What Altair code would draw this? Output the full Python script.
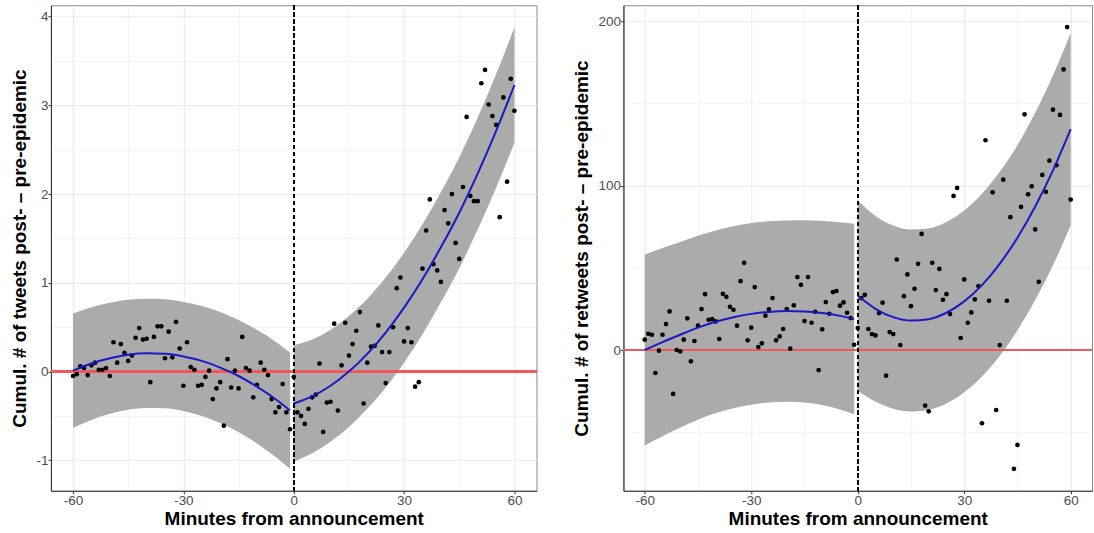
import altair as alt
import pandas as pd

# ---------------- data ----------------
minutes_pre = list(range(-60, 0))
minutes_post = list(range(0, 61))

tweets_pre = [-0.05, -0.03, 0.06, 0.04, -0.04, 0.07, 0.10, 0.02, 0.02, 0.04,
              -0.05, 0.33, 0.10, 0.31, 0.21, 0.12, 0.18, 0.38, 0.49, 0.36,
              0.37, -0.12, 0.39, 0.51, 0.51, 0.15, 0.45, 0.16, 0.56, 0.26,
              -0.16, 0.33, 0.05, 0.02, -0.16, -0.15, -0.06, 0.01, -0.31, -0.19,
              -0.12, -0.61, 0.14, -0.18, 0.01, -0.19, 0.39, 0.04, 0.01, -0.29,
              -0.15, 0.10, 0.02, -0.04, -0.31, -0.46, -0.40, -0.14, -0.46, -0.65]
tweets_post = [-0.06, -0.46, -0.50, -0.59, -0.42, -0.29, -0.26, 0.09, -0.68, -0.35,
               -0.34, 0.54, -0.44, 0.07, 0.55, 0.18, 0.31, 0.46, 0.67, -0.36,
               0.10, 0.28, 0.29, 0.52, 0.22, -0.13, 0.22, 0.50, 0.94, 1.06,
               0.34, 0.49, 0.33, -0.17, -0.12, 1.16, 1.59, 1.94, 1.21, 1.14,
               1.01, 1.82, 1.67, 2.00, 1.45, 1.27, 2.08, 2.87, 1.98, 1.92,
               1.92, 3.25, 3.40, 3.01, 2.88, 2.78, 1.74, 3.09, 2.14, 3.30, 2.94]

retweets_pre = [6.3, 9.9, 9.3, -14.0, -0.4, 9.3, 15.8, 23.5, -26.7, 0.0,
                -0.8, 6.3, 19.3, -6.9, 5.5, 14.8, 24.9, 34.0, 18.4, 18.8,
                17.4, 6.7, 34.2, 32.4, 26.3, 24.5, 14.8, 41.9, 53.1, 5.9,
                13.6, 38.3, 1.8, 4.1, 20.9, 24.7, 31.6, 5.9, 8.3, 12.8,
                24.9, 0.8, 27.2, 44.4, 39.7, 17.6, 44.4, 16.6, 23.3, -12.2,
                12.6, 29.2, 22.1, 35.3, 35.9, 27.0, 29.0, 22.7, 19.5, 3.2]
retweets_post = [13.4, 31.6, 33.6, 12.8, 9.7, 8.9, 22.5, 28.8, -15.6, 10.9,
                 9.7, 55.1, 3.0, 32.8, 46.0, 26.7, 37.3, 52.5, 70.7, -33.8,
                 -37.3, 53.1, 36.5, 49.4, 30.6, 34.0, 21.9, 93.8, 98.7, 7.3,
                 43.0, 16.6, 22.9, 30.8, 38.9, -44.6, 127.7, 30.0, 96.0, -36.5,
                 3.0, 103.7, 30.0, 80.9, -72.3, -57.8, 87.1, 143.5, 94.8, 99.7,
                 73.4, 41.5, 106.6, 96.3, 115.3, 146.3, 112.5, 143.1, 170.8, 196.6, 91.6]

# fitted curves and band half-widths, read at a grid of minutes
fit_min_pre = [-60, -55, -50, -45, -40, -35, -30, -25, -20, -15, -10, -5, -1]
fit_min_post = [0, 5, 10, 15, 20, 25, 30, 35, 40, 45, 50, 55, 60]

tweets_fit_pre = [0.01, 0.09, 0.15, 0.19, 0.205, 0.20, 0.17, 0.12, 0.045, -0.05, -0.17, -0.31, -0.44]
tweets_hw_pre = [0.645, 0.635, 0.625, 0.62, 0.615, 0.615, 0.615, 0.62, 0.625, 0.63, 0.64, 0.65, 0.655]
tweets_fit_post = [-0.36, -0.28, -0.16, 0.0, 0.20, 0.44, 0.72, 1.04, 1.40, 1.79, 2.23, 2.71, 3.23]
tweets_hw_post = [0.655, 0.64, 0.63, 0.625, 0.62, 0.62, 0.62, 0.62, 0.62, 0.625, 0.63, 0.64, 0.65]

retweets_fit_pre = [0.0, 4.8, 9.3, 13.6, 17.2, 20.0, 22.0, 23.2, 23.7, 23.5, 22.5, 20.8, 18.8]
retweets_hw_pre = [58.2, 57.3, 56.5, 56.0, 55.6, 55.4, 55.3, 55.2, 55.2, 55.5, 56.0, 57.0, 58.0]
retweets_fit_post = [33.2, 25.1, 20.0, 17.9, 18.8, 22.7, 29.6, 39.5, 52.5, 68.4, 87.4, 109.4, 134.5]
retweets_hw_post = [58.0, 56.5, 55.8, 55.4, 55.2, 55.2, 55.3, 55.6, 56.0, 56.3, 57.0, 57.8, 58.5]

x_ticks = [-60, -45, -30, -15, 0, 15, 30, 45, 60]
tweets_ticks = [-1, -0.5, 0, 0.5, 1, 1.5, 2, 2.5, 3, 3.5, 4]
retweets_ticks = [-50, 0, 50, 100, 150, 200]

FONT = "Liberation Sans"


def points_df(pre, post):
    return pd.DataFrame({
        "minute": minutes_pre + minutes_post,
        "value": pre + post,
    })


def fit_df(fp, hp, fq, hq):
    rows = []
    for m, f, h in zip(fit_min_pre, fp, hp):
        rows.append({"minute": m, "fit": f, "lo": f - h, "hi": f + h, "seg": "pre"})
    for m, f, h in zip(fit_min_post, fq, hq):
        rows.append({"minute": m, "fit": f, "lo": f - h, "hi": f + h, "seg": "post"})
    return pd.DataFrame(rows)


def panel(pts, fits, ytitle, ydomain, yvals, major_step, width):
    xscale = alt.Scale(domain=[-66, 66], nice=False, zero=False)
    yscale = alt.Scale(domain=ydomain, nice=False, zero=False)
    xaxis = alt.Axis(
        values=x_ticks,
        labelExpr="datum.value % 30 === 0 ? replace(format(datum.value, 'd'), '\u2212', '-') : ''",
        title="Minutes from announcement",
        tickOpacity={"condition": {"test": "datum.value % 30 !== 0", "value": 0}, "value": 1},
        gridWidth={"condition": {"test": "datum.value % 30 !== 0", "value": 0.6}, "value": 1.1},
        labelOverlap=False,
    )
    yaxis = alt.Axis(
        values=yvals,
        labelExpr=f"datum.value % {major_step} === 0 ? replace(format(datum.value, 'd'), '\u2212', '-') : ''",
        title=ytitle,
        tickOpacity={"condition": {"test": f"datum.value % {major_step} !== 0", "value": 0}, "value": 1},
        gridWidth={"condition": {"test": f"datum.value % {major_step} !== 0", "value": 0.6}, "value": 1.1},
        labelOverlap=False,
    )
    base_f = alt.Chart(fits)
    band = base_f.mark_area(color="#ababab", opacity=1, interpolate="monotone").encode(
        x=alt.X("minute:Q", scale=xscale, axis=xaxis),
        y=alt.Y("lo:Q", scale=yscale, axis=yaxis),
        y2="hi:Q",
        detail="seg:N",
    )
    line = base_f.mark_line(color="#1a1ac4", strokeWidth=2, interpolate="monotone").encode(
        x="minute:Q", y="fit:Q", detail="seg:N"
    )
    hline = alt.Chart(pts).mark_rule(color="#f05a5a", strokeWidth=1.5).encode(y=alt.datum(0))
    vline = alt.Chart(pts).mark_rule(color="black", strokeWidth=1.1, strokeDash=[4, 3]).encode(
        x=alt.datum(0)
    )
    dots = alt.Chart(pts).mark_circle(color="black", opacity=1, size=22).encode(
        x="minute:Q", y="value:Q"
    )
    return alt.layer(band, hline, dots, line, vline).properties(width=width, height=486)


left = panel(points_df(tweets_pre, tweets_post),
             fit_df(tweets_fit_pre, tweets_hw_pre, tweets_fit_post, tweets_hw_post),
             "Cumul. # of tweets post- \u2013 pre-epidemic", [-1.344, 4.129],
             tweets_ticks, 1, 486)
right = panel(points_df(retweets_pre, retweets_post),
              fit_df(retweets_fit_pre, retweets_hw_pre, retweets_fit_post, retweets_hw_post),
              "Cumul. # of retweets post- \u2013 pre-epidemic", [-85.7, 209.9],
              retweets_ticks, 100, 469)

chart = alt.hconcat(left, right, spacing=33).properties(
    padding={"left": 10, "top": 3, "right": 0, "bottom": 0},
    background="white",
).configure_view(
    stroke="#8a8a8a", strokeWidth=1
).configure_axis(
    labelFont=FONT, titleFont=FONT, labelFontSize=13.5, labelColor="#4d4d4d",
    titleFontSize=19, titleFontWeight="bold", titleColor="black",
    gridColor="#ebebeb", domainColor="#333333", domainWidth=1.1,
    tickColor="#333333", tickSize=3, labelPadding=0,
).configure_axisX(
    titlePadding=2,
).configure_axisY(
    titlePadding=6,
)

chart.save("out.html", embed_options={"renderer": "svg", "actions": False})
